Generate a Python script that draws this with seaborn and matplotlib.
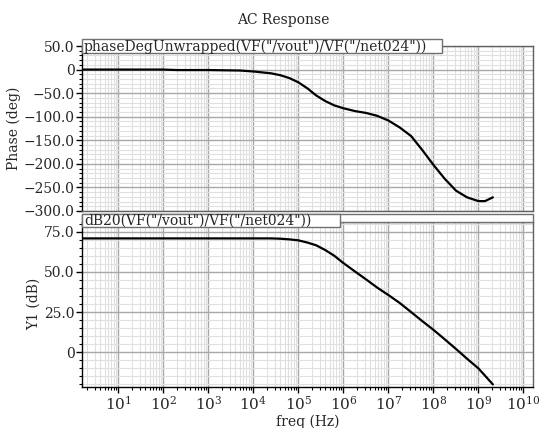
import numpy as np
import pandas as pd
import seaborn as sns
import matplotlib.pyplot as plt
from matplotlib.patches import Rectangle
from matplotlib.ticker import LogLocator, MultipleLocator, FuncFormatter, NullFormatter


# DATA

freq_hz = [1.5, 10, 100, 200, 1e3, 5e3, 1e4, 2.5e4, 4e4, 6.3e4,
           1e5, 1.6e5, 2.5e5, 4e5, 6.3e5, 1e6, 1.8e6, 3.2e6, 5.6e6, 1e7,
           1.8e7, 3.2e7, 5.6e7, 1e8, 1.8e8, 3.2e8, 5.6e8, 1e9, 1.4e9, 2.1e9]

phase_deg = [0, 0, 0, -1, -1, -2, -4, -8, -12, -18,
             -27, -40, -55, -67, -76, -82, -88, -92, -98, -108,
             -123, -141, -170, -202, -232, -257, -271, -279, -279, -271]

gain_db = [70.8, 70.8, 70.8, 70.8, 70.8, 70.8, 70.8, 70.8, 70.6, 70.2,
           69.6, 68.2, 66.5, 63.5, 60.0, 55.5, 50.3, 45.3, 40.3, 35.6,
           30.6, 25.0, 19.5, 14.0, 8.0, 2.0, -4.0, -10.0, -14.5, -20.0]

phase_label = 'phaseDegUnwrapped(VF("/vout")/VF("/net024"))'
gain_label = 'dB20(VF("/vout")/VF("/net024"))'

df = pd.DataFrame({"freq": freq_hz, "phase": phase_deg, "gain": gain_db})


# STYLE

sns.set_style("white")
plt.rcParams['font.family'] = ['DejaVu Serif']
plt.rcParams['mathtext.fontset'] = 'dejavuserif'
FS = 9.5


def num_fmt(v, pos):
    if abs(v) < 1e-9:
        return "0"
    return f"{v:.1f}".replace("-", "\u2212")


def style_axis(ax):
    ax.set_xscale("log")
    ax.set_xlim(1.54, 1.66e10)
    ax.xaxis.set_major_locator(LogLocator(base=10, numticks=20))
    ax.xaxis.set_minor_locator(LogLocator(base=10, subs=np.arange(2, 10), numticks=200))
    ax.grid(True, which="major", color="#a8a8a8", lw=1.0)
    ax.grid(True, which="minor", color="#e0e0e0", lw=0.8)
    ax.set_axisbelow(True)
    ax.yaxis.set_major_formatter(FuncFormatter(num_fmt))
    ax.tick_params(axis="y", which="major", direction="out", length=4, width=1,
                   left=True, labelsize=FS + 0.5, pad=1, color="black")
    ax.tick_params(axis="y", which="minor", direction="out", length=2.5, width=0.8,
                   left=True, color="black")
    for s in ax.spines.values():
        s.set_color("#606060")
        s.set_linewidth(1)
    ax.spines["left"].set_color("black")
    ax.set_xlabel("")


# PLOTTING

fig = plt.figure(figsize=(5.42, 4.28), dpi=100)
W, H = 542.0, 428.0
left = 81.7 / W
width = (533.3 - 81.7) / W

ax1 = fig.add_axes([left, 1 - 211 / H, width, 165 / H])
ax2 = fig.add_axes([left, 1 - 386.7 / H, width, 164.7 / H])

sns.lineplot(data=df, x="freq", y="phase", ax=ax1, color="black", lw=1.6)
sns.lineplot(data=df, x="freq", y="gain", ax=ax2, color="black", lw=1.6)

style_axis(ax1)
ax1.set_ylim(-300, 50)
ax1.yaxis.set_major_locator(MultipleLocator(50))
ax1.yaxis.set_minor_locator(MultipleLocator(10))
ax1.tick_params(axis="x", which="both", bottom=False, labelbottom=False)
ax1.set_ylabel("Phase (deg)", fontsize=FS + 0.5, labelpad=2)

style_axis(ax2)
ax2.set_ylim(-21.4, 81.0)
ax2.yaxis.set_major_locator(MultipleLocator(25))
ax2.yaxis.set_minor_locator(MultipleLocator(5))
ax2.tick_params(axis="x", which="major", direction="out", length=4, width=1,
                bottom=True, labelsize=FS + 1.5, pad=2, color="black")
ax2.tick_params(axis="x", which="minor", direction="out", length=2, width=0.8,
                bottom=True, color="black")
ax2.xaxis.set_minor_formatter(NullFormatter())
ax2.spines["bottom"].set_color("black")
ax2.set_ylabel("Y1 (dB)", fontsize=FS + 0.5, labelpad=2)
ax2.set_xlabel("freq (Hz)", fontsize=FS + 0.5, labelpad=1)


# trace label boxes (figure pixel coords, y from top)
def px_rect(x0, y0, x1, y1, **kw):
    return Rectangle((x0 / W, 1 - y1 / H), (x1 - x0) / W, (y1 - y0) / H,
                     transform=fig.transFigure, **kw)


fig.patches.append(px_rect(81.7, 39, 441.7, 53, facecolor="white",
                           edgecolor="#707070", lw=1, zorder=5))
fig.text(84 / W, 1 - 46.5 / H, phase_label, fontsize=FS + 0.5,
         va="center", ha="left", zorder=6)

fig.patches.append(px_rect(81.7, 214, 533.3, 222, facecolor="white",
                           edgecolor="#707070", lw=1, zorder=5))
fig.patches.append(px_rect(81.7, 213.5, 340, 227, facecolor="white",
                           edgecolor="#707070", lw=1, zorder=5))
fig.text(84 / W, 1 - 220.5 / H, gain_label, fontsize=FS + 0.5,
         va="center", ha="left", zorder=6)

fig.text(283 / W, 1 - 20 / H, "AC Response", fontsize=FS + 0.5,
         ha="center", va="center")

fig.savefig("out.png", dpi=100)
